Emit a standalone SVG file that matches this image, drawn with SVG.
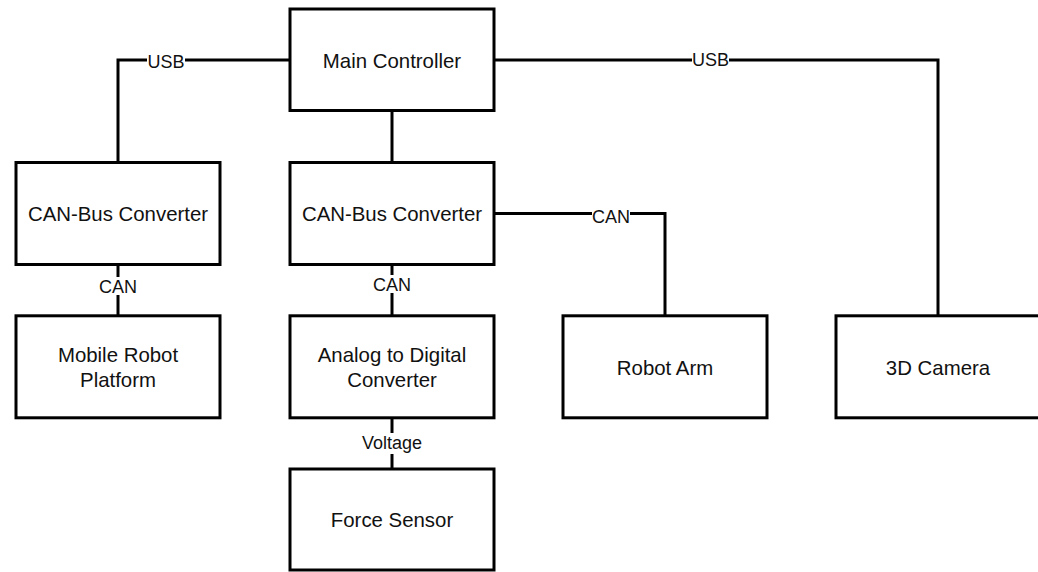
<svg xmlns="http://www.w3.org/2000/svg" width="1038" height="572" viewBox="0 0 1038 572">
<style>
.box{fill:#fff;stroke:#000;stroke-width:3}
.edge{fill:none;stroke:#000;stroke-width:3}
.t{font-family:"Liberation Sans",Arial,sans-serif;font-size:20.4px;fill:#111;text-anchor:middle}
.lbl{font-family:"Liberation Sans",Arial,sans-serif;font-size:18px;fill:#111;text-anchor:middle}
.lb{fill:#fff}
</style>
<rect width="1038" height="572" fill="#fff"/>
<g id="connectors">
<path class="edge" d="M290 60 H118 V162.5"/>
<path class="edge" d="M392 111 V162.5"/>
<path class="edge" d="M494 60 H938 V315.8"/>
<path class="edge" d="M494 213.5 H665 V315.8"/>
<path class="edge" d="M118 264.5 V315.8"/>
<path class="edge" d="M392 264.5 V315.8"/>
<path class="edge" d="M392 417.8 V469"/>
<g id="labels">
<rect class="lb" x="147" y="52" width="38" height="18"/>
<text class="lbl" x="166" y="67.5">USB</text>
<rect class="lb" x="692" y="51" width="37" height="16"/>
<text class="lbl" x="710.5" y="66">USB</text>
<rect class="lb" x="592" y="207" width="38" height="17"/>
<text class="lbl" x="611" y="222.5">CAN</text>
<rect class="lb" x="99" y="277" width="38" height="18"/>
<text class="lbl" x="118" y="292.5">CAN</text>
<rect class="lb" x="373" y="275" width="38" height="18"/>
<text class="lbl" x="392" y="291">CAN</text>
<rect class="lb" x="360" y="433" width="64" height="21"/>
<text class="lbl" x="392" y="448.5">Voltage</text>
</g>
</g>
<g id="main-controller">
<rect class="box" x="290" y="9" width="204" height="101.5"/>
<text class="t" x="392" y="67.5">Main Controller</text>
</g>
<g id="canbus-left">
<rect class="box" x="16" y="162.5" width="204" height="102"/>
<text class="t" x="118" y="221">CAN-Bus Converter</text>
</g>
<g id="canbus-center">
<rect class="box" x="290" y="162.5" width="204" height="102"/>
<text class="t" x="392" y="221">CAN-Bus Converter</text>
</g>
<g id="mobile-robot-platform">
<rect class="box" x="16" y="315.8" width="204" height="102"/>
<text class="t" x="118" y="361.5">Mobile Robot</text>
<text class="t" x="118" y="386.5">Platform</text>
</g>
<g id="adc">
<rect class="box" x="290" y="315.8" width="204" height="102"/>
<text class="t" x="392" y="361.5">Analog to Digital</text>
<text class="t" x="392" y="386.5">Converter</text>
</g>
<g id="robot-arm">
<rect class="box" x="563" y="315.8" width="204" height="102"/>
<text class="t" x="665" y="374.5">Robot Arm</text>
</g>
<g id="camera-3d">
<rect class="box" x="836" y="315.8" width="204" height="102"/>
<text class="t" x="938" y="374.5">3D Camera</text>
</g>
<g id="force-sensor">
<rect class="box" x="290" y="469" width="204" height="101"/>
<text class="t" x="392" y="527">Force Sensor</text>
</g>
</svg>
